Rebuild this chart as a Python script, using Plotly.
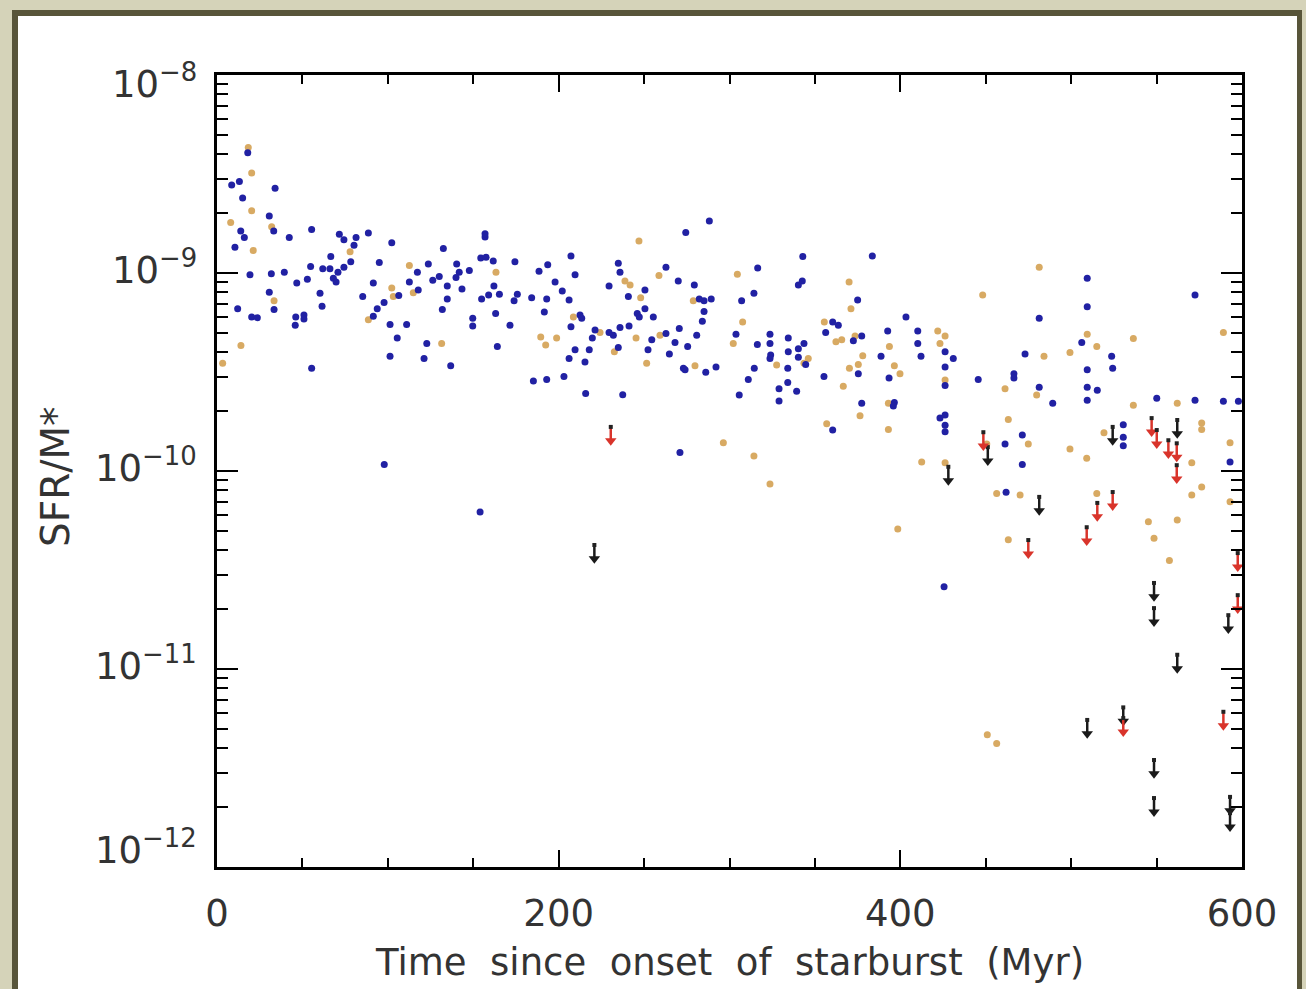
import math
import plotly.graph_objects as go

# ---- data: time since onset of starburst (Myr) and specific SFR (SFR/M*, yr^-1) ----
blue_t = [8.6, 13.1, 15.0, 18.0, 34.0, 30.6, 13.9, 16.0, 33.2, 42.3, 55.4, 10.5, 19.3, 31.8, 39.4,
          30.6, 12.1, 20.3, 23.6, 33.4, 46.7, 52.9, 46.1, 50.9, 50.9, 45.8, 54.8, 60.3, 61.5, 61.9,
          66.1, 66.6, 68.1, 69.7, 70.8, 74.3, 78.3, 71.6, 74.3, 80.2, 81.4, 88.6, 85.3, 91.5, 95.0,
          91.5, 93.8, 97.8, 102.3, 101.3, 105.5, 101.3, 106.4, 111.0, 112.6, 117.3, 117.8, 123.7,
          122.8, 121.2, 126.3, 130.1, 132.5, 131.9, 134.8, 134.8, 139.9, 140.3, 141.8, 143.4, 147.7,
          149.7, 149.7, 154.4, 157.5, 156.9, 156.9, 161.7, 154.9, 159.0, 162.1, 165.3, 163.1, 164.1,
          171.5, 174.4, 173.9, 175.8, 184.2, 188.5, 193.6, 193.0, 191.6, 197.9, 202.1, 206.1, 207.2,
          209.6, 212.5, 213.5, 207.2, 221.3, 219.7, 217.9, 209.6, 206.1, 55.4, 136.8, 185.2, 193.0,
          203.1, 215.8, 97.9, 154.0, 288.2, 274.4, 342.9, 383.6, 234.9, 235.9, 229.5, 250.5, 240.8,
          262.8, 270.0, 279.4, 282.3, 285.1, 289.3, 285.1, 284.1, 307.1, 314.3, 316.5, 340.3, 342.6,
          375.0, 403.3, 229.5, 232.0, 235.9, 241.2, 246.0, 247.2, 250.5, 255.4, 262.8, 254.5, 270.6,
          268.1, 280.8, 275.5, 264.8, 252.3, 234.9, 303.8, 316.3, 323.7, 323.7, 324.1, 334.4, 334.4,
          340.3, 343.6, 356.3, 360.4, 363.7, 372.5, 377.4, 388.7, 410.2, 410.2, 412.1, 392.6, 426.2,
          237.5, 273.0, 274.0, 286.1, 292.1, 314.5, 311.0, 305.7, 323.7, 334.1, 334.1, 329.0, 329.0,
          339.3, 344.6, 340.3, 355.3, 375.4, 377.4, 393.4, 396.5, 395.9, 360.4, 426.2, 426.2, 423.2,
          426.2, 426.2, 426.2, 271.0, 425.6, 215.4, 509.4, 572.5, 509.4, 481.3, 431.0, 473.0, 506.2,
          523.7, 445.6, 466.5, 466.5, 481.3, 489.2, 509.4, 509.4, 515.3, 509.4, 524.3, 550.1, 572.5,
          589.1, 597.9, 461.3, 471.4, 471.4, 530.5, 530.5, 530.5, 461.9, 593.0]
blue_ssfr = [2.78e-9, 2.90e-9, 2.39e-9, 4.05e-9, 2.68e-9, 1.94e-9, 1.63e-9, 1.51e-9, 1.63e-9, 1.51e-9,
             1.66e-9, 1.35e-9, 9.8e-10, 9.9e-10, 1.01e-9, 8.0e-10, 6.6e-10, 6.0e-10, 5.95e-10, 6.55e-10,
             8.9e-10, 9.3e-10, 6.0e-10, 6.14e-10, 5.85e-10, 5.45e-10, 1.08e-9, 7.9e-10, 6.8e-10, 1.05e-9,
             1.05e-9, 1.21e-9, 9.4e-10, 9.0e-10, 1.01e-9, 1.07e-9, 1.14e-9, 1.57e-9, 1.47e-9, 1.38e-9,
             1.51e-9, 1.59e-9, 7.6e-10, 8.9e-10, 1.13e-9, 6.05e-10, 6.6e-10, 7.1e-10, 1.42e-9, 5.5e-10,
             4.7e-10, 3.8e-10, 7.7e-10, 5.5e-10, 9.0e-10, 1.01e-9, 8.2e-10, 1.11e-9, 4.4e-10, 3.7e-10,
             9.2e-10, 9.6e-10, 1.33e-9, 6.55e-10, 7.4e-10, 8.6e-10, 9.5e-10, 1.11e-9, 1.01e-9, 8.3e-10,
             1.03e-9, 5.9e-10, 5.4e-10, 1.19e-9, 1.20e-9, 1.52e-9, 1.58e-9, 1.15e-9, 7.4e-10, 7.75e-10,
             8.6e-10, 7.8e-10, 6.25e-10, 4.25e-10, 5.45e-10, 1.14e-9, 7.25e-10, 7.8e-10, 7.5e-10, 1.02e-9,
             1.10e-9, 7.4e-10, 6.35e-10, 9.0e-10, 8.1e-10, 7.3e-10, 1.22e-9, 9.8e-10, 6.14e-10, 5.9e-10,
             5.35e-10, 5.15e-10, 4.7e-10, 4.1e-10, 4.1e-10, 3.7e-10, 3.3e-10, 3.4e-10, 2.85e-10, 2.9e-10,
             3.0e-10, 2.46e-10, 1.08e-10, 6.2e-11, 1.83e-9, 1.60e-9, 1.21e-9, 1.22e-9, 1.12e-9, 1.01e-9,
             8.6e-10, 8.2e-10, 7.6e-10, 1.07e-9, 9.1e-10, 8.7e-10, 7.4e-10, 7.25e-10, 7.4e-10, 6.4e-10,
             5.7e-10, 7.25e-10, 7.9e-10, 1.06e-9, 8.7e-10, 9.1e-10, 7.3e-10, 6.0e-10, 5.0e-10, 4.85e-10,
             5.3e-10, 5.4e-10, 6.25e-10, 6.0e-10, 6.6e-10, 6.0e-10, 4.95e-10, 4.6e-10, 5.25e-10, 4.45e-10,
             4.85e-10, 4.25e-10, 3.9e-10, 4.1e-10, 4.2e-10, 4.9e-10, 4.35e-10, 4.9e-10, 4.4e-10, 3.85e-10,
             4.7e-10, 4.0e-10, 4.15e-10, 4.4e-10, 5.0e-10, 5.65e-10, 5.45e-10, 4.55e-10, 4.8e-10, 3.8e-10,
             5.1e-10, 4.4e-10, 3.8e-10, 5.1e-10, 4.0e-10, 2.43e-10, 3.3e-10, 3.25e-10, 3.15e-10, 3.35e-10,
             3.3e-10, 2.9e-10, 2.42e-10, 3.7e-10, 3.3e-10, 2.8e-10, 2.6e-10, 2.26e-10, 2.53e-10, 3.45e-10,
             3.75e-10, 3.0e-10, 3.1e-10, 2.2e-10, 2.95e-10, 2.22e-10, 2.13e-10, 1.61e-10, 3.35e-10, 2.7e-10,
             1.85e-10, 1.92e-10, 1.7e-10, 1.58e-10, 1.24e-10, 2.6e-11, 3.55e-10, 9.4e-10, 7.75e-10, 6.75e-10,
             5.9e-10, 3.7e-10, 3.9e-10, 4.45e-10, 3.8e-10, 2.9e-10, 3.1e-10, 2.95e-10, 2.65e-10, 2.2e-10,
             3.25e-10, 2.65e-10, 2.56e-10, 2.28e-10, 3.3e-10, 2.33e-10, 2.28e-10, 2.25e-10, 2.25e-10, 1.37e-10,
             1.52e-10, 1.08e-10, 1.71e-10, 1.48e-10, 1.34e-10, 7.8e-11, 1.11e-10]

tan_t = [18.3, 20.3, 20.3, 8.0, 32.0, 21.2, 33.4, 14.0, 3.3, 77.9, 112.6, 102.3, 103.2, 114.9, 88.6,
         131.5, 163.3, 189.5, 192.4, 198.8, 208.6, 247.0, 258.7, 238.8, 241.8, 248.0, 224.2, 245.3,
         259.3, 232.6, 278.8, 304.6, 307.7, 302.2, 370.0, 371.1, 355.5, 362.3, 365.7, 373.5, 378.0,
         393.6, 421.9, 426.2, 423.2, 251.5, 279.8, 327.6, 346.1, 343.6, 370.2, 375.4, 366.6, 396.5,
         399.8, 393.0, 376.4, 393.0, 356.9, 426.2, 296.4, 314.3, 323.7, 398.5, 412.5, 426.2, 481.3,
         448.2, 509.4, 536.4, 589.1, 515.0, 499.3, 484.1, 461.3, 479.8, 463.2, 536.4, 562.1, 576.4,
         576.4, 593.0, 519.2, 474.9, 450.6, 499.3, 509.1, 570.6, 456.4, 470.1, 515.0, 570.6, 576.4,
         593.0, 545.2, 562.1, 548.5, 463.2, 557.5, 450.9, 456.4]
tan_ssfr = [4.3e-9, 3.2e-9, 2.06e-9, 1.8e-9, 1.71e-9, 1.3e-9, 7.25e-10, 4.3e-10, 3.5e-10, 1.28e-9,
            1.09e-9, 8.4e-10, 7.6e-10, 7.95e-10, 5.8e-10, 4.4e-10, 1.01e-9, 4.75e-10, 4.33e-10, 4.7e-10,
            6.0e-10, 1.45e-9, 9.7e-10, 9.1e-10, 8.7e-10, 7.5e-10, 5.0e-10, 4.7e-10, 4.85e-10, 4.0e-10,
            7.25e-10, 9.85e-10, 5.65e-10, 4.4e-10, 9.0e-10, 6.6e-10, 5.65e-10, 4.5e-10, 4.6e-10, 4.8e-10,
            3.82e-10, 4.25e-10, 5.1e-10, 4.8e-10, 4.4e-10, 3.5e-10, 3.4e-10, 3.43e-10, 3.7e-10, 3.5e-10,
            3.3e-10, 3.45e-10, 2.68e-10, 3.4e-10, 3.1e-10, 2.2e-10, 1.9e-10, 1.62e-10, 1.73e-10, 2.88e-10,
            1.39e-10, 1.19e-10, 8.6e-11, 5.1e-11, 1.11e-10, 1.1e-10, 1.07e-9, 7.75e-10, 4.9e-10, 4.67e-10,
            5.0e-10, 4.25e-10, 3.97e-10, 3.8e-10, 2.6e-10, 2.42e-10, 1.82e-10, 2.15e-10, 2.2e-10, 1.75e-10,
            1.62e-10, 1.39e-10, 1.56e-10, 1.37e-10, 1.37e-10, 1.29e-10, 1.16e-10, 1.1e-10, 7.7e-11, 7.56e-11,
            7.7e-11, 7.56e-11, 8.3e-11, 7.0e-11, 5.55e-11, 5.66e-11, 4.57e-11, 4.5e-11, 3.53e-11, 4.65e-12,
            4.2e-12]

# upper limits
red_lim_t = [230.5, 448.6, 474.9, 509.1, 515.3, 524.3, 547.1, 550.1, 556.9, 561.8, 561.8, 597.5,
             597.5, 589.1, 530.5]
red_lim_ssfr = [1.67e-10, 1.57e-10, 4.48e-11, 5.2e-11, 6.9e-11, 7.83e-11, 1.85e-10, 1.61e-10,
                1.43e-10, 1.38e-10, 1.07e-10, 3.85e-11, 2.36e-11, 6.08e-12, 5.65e-12]
black_lim_t = [220.9, 428.1, 451.2, 481.3, 524.3, 562.1, 548.5, 548.5, 592.0, 562.1, 509.4, 530.5,
               548.5, 548.5, 593.0, 593.0]
black_lim_ssfr = [4.23e-11, 1.05e-10, 1.32e-10, 7.4e-11, 1.67e-10, 1.81e-10, 2.72e-11, 2.03e-11,
                  1.87e-11, 1.18e-11, 5.53e-12, 6.4e-12, 3.47e-12, 2.23e-12, 2.26e-12, 1.87e-12]

x_ticks = [0, 200, 400, 600]
y_ticks = [1e-8, 1e-9, 1e-10, 1e-11, 1e-12]
y_tick_text = ["10<sup>\u22128</sup>", "10<sup>\u22129</sup>", "10<sup>\u221210</sup>",
               "10<sup>\u221211</sup>", "10<sup>\u221212</sup>"]

# ---- figure geometry (pixels) ----
W, H = 1306, 989
L, R, T, B = 217, 64, 75, 122
PW, PH = W - L - R, H - T - B


def px_x(p):
    return (p - L) / PW


def px_y(p):
    return (H - B - p) / PH


BLUE = "#2121a3"
TAN = "#d8aa63"
RED = "#d9342b"
INK = "#333333"
FONT = "DejaVu Sans"

fig = go.Figure()

fig.add_trace(go.Scatter(x=tan_t, y=tan_ssfr, mode="markers",
                         marker=dict(color=TAN, size=7, symbol="circle"), hoverinfo="x+y"))
fig.add_trace(go.Scatter(x=blue_t, y=blue_ssfr, mode="markers",
                         marker=dict(color=BLUE, size=7, symbol="circle"), hoverinfo="x+y"))


def add_limits(ts, vs, color):
    stem_drop = 10 ** -0.07
    sx, sy, hx, hy = [], [], [], []
    for t, v in zip(ts, vs):
        sx += [t, t, None]
        sy += [v, v * stem_drop, None]
        hx.append(t)
        hy.append(v * stem_drop)
    fig.add_trace(go.Scatter(x=sx, y=sy, mode="lines", line=dict(color=color, width=2.5),
                             hoverinfo="skip"))
    fig.add_trace(go.Scatter(x=hx, y=hy, mode="markers",
                             marker=dict(symbol="triangle-down", size=10, color=color),
                             hoverinfo="skip"))
    fig.add_trace(go.Scatter(x=ts, y=vs, mode="markers",
                             marker=dict(symbol="square", size=4, color="#222222"),
                             hoverinfo="x+y"))


add_limits(black_lim_t, black_lim_ssfr, "#1a1a1a")
add_limits(red_lim_t, red_lim_ssfr, RED)

axis_common = dict(showline=True, linecolor="black", linewidth=2.5, mirror="allticks",
                   ticks="inside", tickcolor="black", tickwidth=2, showgrid=False,
                   zeroline=False)

fig.update_xaxes(range=[0, 600], tickvals=x_ticks, ticklen=17,
                 tickfont=dict(family=FONT, size=37, color=INK), ticklabelstandoff=12,
                 minor=dict(dtick=50, ticks="inside", ticklen=9, tickwidth=2,
                            tickcolor="black", showgrid=False),
                 **axis_common)
fig.update_yaxes(type="log", range=[-12, -8], tickvals=y_ticks, showticklabels=False,
                 ticklen=21,
                 minor=dict(dtick="D1", ticks="inside", ticklen=11, tickwidth=2,
                            tickcolor="black", showgrid=False),
                 **axis_common)

annotations = []
# decade labels, the end ones nudged inside the frame
for v, txt, shift in zip(y_ticks, y_tick_text, [-12, 0, 0, 0, 14]):
    annotations.append(dict(x=0, xref="paper", y=math.log10(v), yref="y", text=txt,
                            showarrow=False, xanchor="right", yanchor="middle",
                            xshift=-18, yshift=shift + 6,
                            font=dict(family=FONT, size=37, color=INK)))
annotations.append(dict(x=0.5, xref="paper", y=px_y(963), yref="paper",
                        text="Time  since  onset  of  starburst  (Myr)", showarrow=False,
                        xanchor="center", yanchor="middle",
                        font=dict(family=FONT, size=37, color=INK)))
annotations.append(dict(x=px_x(55), xref="paper", y=px_y(477), yref="paper", text="SFR/M*",
                        showarrow=False, textangle=-90, xanchor="center", yanchor="middle",
                        font=dict(family=FONT, size=39, color=INK)))

# page frame: dark border line and white card on a khaki background
shapes = [
    dict(type="rect", xref="paper", yref="paper", layer="below",
         x0=px_x(12), x1=px_x(1302), y0=px_y(1010), y1=px_y(10),
         fillcolor="#58553a", line=dict(width=0)),
    dict(type="rect", xref="paper", yref="paper", layer="below",
         x0=px_x(18), x1=px_x(1297), y0=px_y(1010), y1=px_y(16),
         fillcolor="white", line=dict(width=0)),
]

fig.update_layout(width=W, height=H, margin=dict(l=L, r=R, t=T, b=B, pad=0),
                  paper_bgcolor="#d5d3b9", plot_bgcolor="rgba(0,0,0,0)",
                  showlegend=False, annotations=annotations, shapes=shapes)

fig.write_html("out.html")
